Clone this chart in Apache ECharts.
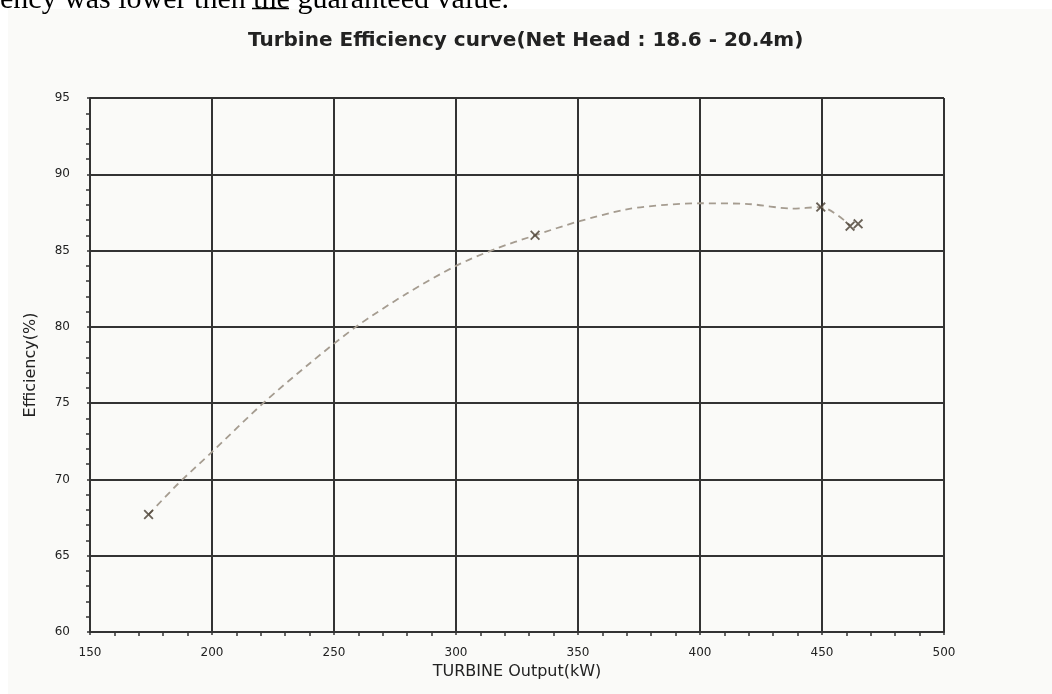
<!DOCTYPE html>
<html>
<head>
<meta charset="utf-8">
<script src="https://cdn.jsdelivr.net/npm/echarts@6/dist/echarts.min.js"></script>
<style>
html,body{margin:0;padding:0;background:#ffffff;}
#c{width:1052px;height:694px;}
</style>
</head>
<body>
<div id="c"></div>
<script>
// Measured points (x marks)
var pointX = [174, 332.4, 449.5, 461.5, 464.8];
var pointY = [67.7, 86.0, 87.85, 86.6, 86.75];
// Dashed fitted curve
var curveX = [174, 186, 200, 221, 240, 259, 280, 300, 316, 332.4, 350, 370, 386, 400, 420, 438, 449.5, 461.5];
var curveY = [67.7, 69.7, 71.8, 75, 77.6, 80, 82.2, 84.0, 85.1, 86.0, 86.9, 87.7, 88.0, 88.1, 88.05, 87.75, 87.85, 86.65];
var xTicks = [150, 200, 250, 300, 350, 400, 450, 500];
var yTicks = [60, 65, 70, 75, 80, 85, 90, 95];

var titleText = 'Turbine Efficiency curve(Net Head : 18.6 - 20.4m)';
var xName = 'TURBINE Output(kW)';
var yName = 'Efficiency(%)';
var docText = 'ency was lower then the guaranteed value.';

function zip(a, b) { return a.map(function (v, i) { return [v, b[i]]; }); }

var chart = echarts.init(document.getElementById('c'));
var axisCol = '#333333';
var xSymbol = 'path://M0,1.3L1.3,0L5,3.7L8.7,0L10,1.3L6.3,5L10,8.7L8.7,10L5,6.3L1.3,10L0,8.7L3.7,5Z';

chart.setOption({
  backgroundColor: 'transparent',
  animation: false,
  graphic: [
    { type: 'rect', z: -10, shape: { x: 8, y: 9, width: 1044, height: 685 }, style: { fill: '#fafaf8' } },
    { type: 'text', left: 0, top: -15, style: { text: docText, font: '30px "Liberation Serif"', fill: '#000' } },
    { type: 'line', shape: { x1: 252, y1: 8.5, x2: 289, y2: 8.5 }, style: { stroke: '#000', lineWidth: 1.5 } }
  ],
  title: {
    text: titleText,
    left: 243,
    top: 26,
    textStyle: { fontFamily: 'DejaVu Sans', fontWeight: 'bold', fontSize: 20, color: '#222' }
  },
  grid: { left: 90, right: 108, top: 98, bottom: 62, containLabel: false },
  xAxis: [{
    type: 'value', min: 150, max: 500, interval: 50,
    name: xName, nameLocation: 'middle', nameGap: 31,
    nameTextStyle: { fontFamily: 'DejaVu Sans', fontSize: 16, color: '#222' },
    axisLine: { lineStyle: { color: axisCol, width: 2 } },
    axisTick: { show: true, length: 3, lineStyle: { color: axisCol, width: 1.5 } },
    minorTick: { show: true, splitNumber: 5, length: 3, lineStyle: { color: axisCol, width: 1.5 } },
    splitLine: { show: true, lineStyle: { color: axisCol, width: 2 } },
    axisLabel: { fontFamily: 'DejaVu Sans', fontSize: 12, color: '#222', margin: 15 }
  }, {
    type: 'value', min: 150, max: 500, interval: 50, position: 'bottom', offset: 0,
    axisLine: { show: false },
    axisTick: { show: false },
    minorTick: { show: true, splitNumber: 5, length: 4, lineStyle: { color: axisCol, width: 1.5 } },
    axisLabel: { show: false }, splitLine: { show: false }
  }],
  yAxis: [{
    type: 'value', min: 60, max: 95, interval: 5,
    name: yName, nameLocation: 'middle', nameGap: 51,
    nameTextStyle: { fontFamily: 'DejaVu Sans', fontSize: 16, color: '#222' },
    axisLine: { lineStyle: { color: axisCol, width: 2 } },
    axisTick: { show: true, length: 3, lineStyle: { color: axisCol, width: 1.5 } },
    minorTick: { show: true, splitNumber: 5, length: 3, lineStyle: { color: axisCol, width: 1.5 } },
    splitLine: { show: true, lineStyle: { color: axisCol, width: 2 } },
    axisLabel: { fontFamily: 'DejaVu Sans', fontSize: 12, color: '#222', margin: 20 }
  }, {
    type: 'value', min: 60, max: 95, interval: 5, position: 'left', offset: 0,
    axisLine: { show: false },
    axisTick: { show: false },
    minorTick: { show: true, splitNumber: 5, length: 4, lineStyle: { color: axisCol, width: 1.5 } },
    axisLabel: { show: false }, splitLine: { show: false }
  }],
  series: [{
    type: 'line',
    data: zip(curveX, curveY),
    smooth: 0.3,
    showSymbol: false,
    lineStyle: { color: '#a59c90', width: 1.8, type: [7, 5] },
    z: 3
  }, {
    type: 'scatter',
    data: zip(pointX, pointY),
    symbol: xSymbol,
    symbolSize: 10,
    itemStyle: { color: '#463c2f' },
    z: 4
  }]
});
</script>
</body>
</html>
